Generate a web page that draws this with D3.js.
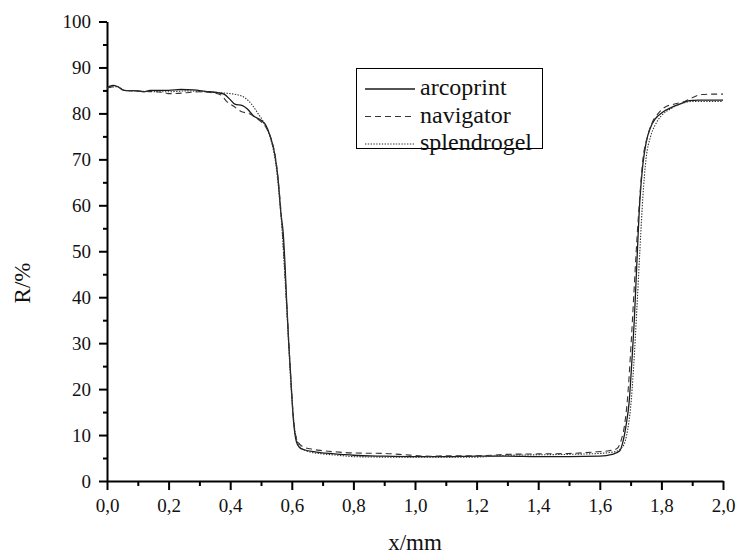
<!DOCTYPE html>
<html>
<head>
<meta charset="utf-8">
<script src="https://cdn.jsdelivr.net/npm/d3@7/dist/d3.min.js"></script>
<style>
  html, body { margin: 0; padding: 0; background: #fff; }
  svg { display: block; }
  svg text { font-family: "Times New Roman", "Liberation Serif", Tinos, "DejaVu Serif", serif !important; fill: #111; }
</style>
</head>
<body>
<svg id="chart" width="737" height="554"></svg>
<script>
// ---- data ----
const seriesNames = ["arcoprint", "navigator", "splendrogel"];

const arcoprintX = [0,0.02,0.035,0.055,0.1,0.12,0.14,0.2,0.24,0.28,0.32,0.36,0.38,0.40,0.415,0.44,0.455,0.475,0.5,0.515,0.53,0.545,0.555,0.565,0.572,0.578,0.583,0.59,0.595,0.605,0.615,0.625,0.64,0.68,0.72,0.76,0.8,0.9,1.0,1.1,1.2,1.3,1.4,1.5,1.6,1.64,1.665,1.675,1.685,1.695,1.705,1.712,1.72,1.73,1.74,1.75,1.765,1.78,1.805,1.83,1.85,1.87,1.89,1.92,1.96,2.0];
const arcoprintR = [85.6,86.1,85.8,85.0,84.9,84.7,85.0,85.0,85.2,85.1,84.8,84.5,84.2,83.0,82.0,81.7,81.0,79.5,78.5,77.5,75,71,66,58,54,47,39.5,30,24.5,13.5,8.5,7.3,6.8,6.3,6.0,5.8,5.6,5.4,5.3,5.3,5.4,5.4,5.3,5.3,5.4,5.8,6.6,8.5,12,17,27,35,47,61,69,73.5,77,78.8,80.3,81.2,81.8,82.3,82.8,82.9,82.9,82.9];

const navigatorX = [0,0.03,0.06,0.12,0.18,0.2,0.26,0.3,0.34,0.37,0.39,0.41,0.44,0.46,0.48,0.5,0.52,0.535,0.548,0.558,0.568,0.578,0.588,0.598,0.608,0.62,0.635,0.66,0.7,0.75,0.8,0.9,0.95,1.05,1.1,1.2,1.3,1.4,1.5,1.58,1.63,1.655,1.67,1.68,1.69,1.70,1.71,1.72,1.73,1.74,1.755,1.77,1.79,1.81,1.84,1.87,1.9,1.93,1.97,2.0];
const navigatorR = [85.5,85.9,85.0,84.8,84.6,84.3,84.5,84.7,84.5,84.0,82.5,81.6,80.3,80.0,79.2,78.2,76.5,74,70,64,56,45,33,21,12,8.5,7.5,7.0,6.6,6.3,6.1,6.0,5.8,5.4,5.5,5.5,5.8,5.9,6.0,6.3,6.6,7.0,9,12,18,28,40,52,62,70,75,78,80,81.3,82.0,82.5,83.4,84.1,84.2,84.2];

const splendrogelX = [0,0.03,0.06,0.12,0.2,0.26,0.32,0.37,0.4,0.42,0.44,0.46,0.475,0.49,0.505,0.52,0.535,0.548,0.558,0.568,0.578,0.588,0.598,0.61,0.618,0.63,0.65,0.7,0.75,0.8,0.9,1.0,1.1,1.2,1.25,1.3,1.4,1.5,1.6,1.65,1.675,1.69,1.70,1.71,1.72,1.73,1.74,1.75,1.765,1.78,1.8,1.83,1.86,1.9,1.95,2.0];
const splendrogelR = [85.5,85.8,85.0,84.8,84.7,84.9,84.7,84.5,84.3,84.1,83.7,82.7,81.5,80,78.5,76.5,73.5,69,63,55,44,32,20,11,8.5,7.2,6.5,5.9,5.6,5.3,5.2,5.2,5.2,5.2,5.4,5.6,5.7,5.8,6.0,6.4,7.5,11,16,25,37,50,62,70,75,77.5,79.5,81,82,82.6,82.6,82.6];

const xTickValues = [0,0.2,0.4,0.6,0.8,1.0,1.2,1.4,1.6,1.8,2.0];
const yTickValues = [0,10,20,30,40,50,60,70,80,90,100];
const xLabel = "x/mm";
const yLabel = "R/%";

// ---- layout ----
const FONT = '"Times New Roman", "Liberation Serif", Tinos, "DejaVu Serif", serif';
const svg = d3.select("#chart");
const mLeft = 107, mRight = 723, mTop = 21.5, mBottom = 481;

const x = d3.scaleLinear().domain([0, 2]).range([mLeft, mRight]);
const y = d3.scaleLinear().domain([0, 100]).range([mBottom, mTop]);

const fmt = d => d3.format(".1f")(d).replace(".", ",");

// minor ticks
const xMinor = d3.range(0.1, 2.0, 0.2);
const yMinor = d3.range(5, 100, 10);

const gx = svg.append("g").attr("transform", `translate(0,${mBottom})`);
gx.call(d3.axisBottom(x).tickValues(xTickValues).tickFormat(fmt).tickSizeInner(9).tickSizeOuter(0).tickPadding(8));
gx.append("g").call(d3.axisBottom(x).tickValues(xMinor).tickSize(5).tickFormat(""))
  .select(".domain").remove();

const gy = svg.append("g").attr("transform", `translate(${mLeft},0)`);
gy.call(d3.axisLeft(y).tickValues(yTickValues).tickFormat(d3.format("d")).tickSizeInner(8).tickSizeOuter(0).tickPadding(8));
gy.append("g").call(d3.axisLeft(y).tickValues(yMinor).tickSize(4).tickFormat(""))
  .select(".domain").remove();

svg.selectAll("g").attr("font-family", FONT);
svg.selectAll(".domain").attr("stroke", "#000").attr("stroke-width", 2);
svg.selectAll(".tick line").attr("stroke", "#000").attr("stroke-width", 2);
svg.selectAll(".tick text").attr("font-size", 19).style("font-family", FONT).attr("fill", "#111");
gx.selectAll(".tick text").attr("dy", "0.75em");

// axis titles
svg.append("text").attr("x", (mLeft + mRight) / 2).attr("y", 550)
  .attr("text-anchor", "middle").attr("font-size", 23).style("font-family", FONT).text(xLabel);
svg.append("text").attr("transform", `translate(30,283) rotate(-90)`)
  .attr("text-anchor", "middle").attr("font-size", 23).style("font-family", FONT).text(yLabel);

// lines
const styles = [
  { dash: null, width: 1.3, color: "#1a1a1a" },
  { dash: "6,4", width: 1.1, color: "#333" },
  { dash: "1.4,1.4", width: 1.1, color: "#333" }
];
const seriesData = [
  d3.zip(arcoprintX, arcoprintR),
  d3.zip(navigatorX, navigatorR),
  d3.zip(splendrogelX, splendrogelR)
];
const line = d3.line().x(d => x(d[0])).y(d => y(d[1])).curve(d3.curveMonotoneX);

seriesData.forEach((data, i) => {
  svg.append("path").datum(data)
    .attr("fill", "none")
    .attr("stroke", styles[i].color)
    .attr("stroke-width", styles[i].width)
    .attr("stroke-dasharray", styles[i].dash)
    .attr("d", line);
});

// legend
const lg = svg.append("g");
lg.append("rect").attr("x", 356.5).attr("y", 68.5).attr("width", 186).attr("height", 80)
  .attr("fill", "#fff").attr("stroke", "#000").attr("stroke-width", 1);
const rowsY = [89, 116.5, 144];
seriesNames.forEach((name, i) => {
  lg.append("line").attr("x1", 365).attr("x2", 415).attr("y1", rowsY[i]).attr("y2", rowsY[i])
    .attr("stroke", styles[i].color).attr("stroke-width", styles[i].width)
    .attr("stroke-dasharray", styles[i].dash);
  lg.append("text").attr("x", 420).attr("y", rowsY[i] + 6).attr("font-size", 24)
    .style("font-family", FONT).text(name);
});
</script>
</body>
</html>
